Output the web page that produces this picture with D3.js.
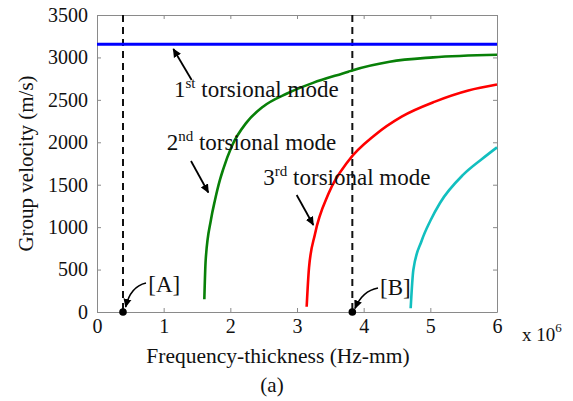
<!DOCTYPE html>
<html>
<head>
<meta charset="utf-8">
<script src="https://cdn.jsdelivr.net/npm/d3@7"></script>
<style>
  body { margin: 0; background: #fff; }
  svg text { font-family: "Liberation Serif", "Times New Roman", serif; fill: #111; }
  .axis path, .axis line { stroke: #8a8a8a; }
</style>
</head>
<body>
<div id="chart"></div>
<script>
// group velocity dispersion curves (frequency-thickness in MHz-mm, velocity m/s)
const t1f = [0, 6];
const t1v = [3155, 3155];
const t2f = [1.61, 1.63, 1.71, 1.77, 1.845, 1.89, 2.02, 2.245, 2.49, 2.85, 3.24, 3.77, 3.84, 4.39, 5.04, 6];
const t2v = [150, 610, 1090, 1320, 1560, 1675, 1950, 2235, 2420, 2575, 2700, 2832, 2850, 2950, 3001, 3032];
const t3f = [3.145, 3.18, 3.27, 3.47, 3.77, 4.17, 4.57, 5.07, 5.57, 6];
const t3v = [62, 520, 920, 1390, 1780, 2086, 2302, 2479, 2610, 2680];
const t4f = [4.705, 4.745, 4.87, 5.0, 5.145, 5.49, 5.77, 6];
const t4v = [44, 495, 840, 1075, 1285, 1615, 1800, 1940];
const markF = [0.39, 3.83];
const markNames = ["[A]", "[B]"];
const xTicks = [0, 1, 2, 3, 4, 5, 6];
const yTicks = [0, 500, 1000, 1500, 2000, 2500, 3000, 3500];

const W = 573, H = 401;
const margin = {top: 15, left: 97, right: 76, bottom: 89};
const width = W - margin.left - margin.right,
    height = H - margin.top - margin.bottom;

const svg = d3.select("#chart").append("svg")
    .attr("width", W).attr("height", H)
    .attr("font-family", "Liberation Serif");

svg.append("defs").append("marker")
    .attr("id", "head")
    .attr("viewBox", "0 0 10 10")
    .attr("refX", 9).attr("refY", 5)
    .attr("markerWidth", 9).attr("markerHeight", 9)
    .attr("markerUnits", "userSpaceOnUse")
    .attr("orient", "auto")
  .append("path")
    .attr("d", "M0,0.5 L10,5 L0,9.5 Z")
    .attr("fill", "#000");

const x = d3.scaleLinear().domain([0, 6]).range([margin.left, margin.left + width]);
const y = d3.scaleLinear().domain([0, 3500]).range([margin.top + height, margin.top]);

// axes, inward ticks like matlab
svg.append("g").attr("class", "axis")
    .attr("transform", `translate(0,${y(0)})`)
    .call(d3.axisBottom(x).tickValues(xTicks).tickFormat(d3.format("d"))
        .tickSize(-4).tickSizeOuter(0).tickPadding(7));
svg.append("g").attr("class", "axis")
    .attr("transform", `translate(${x(0)},0)`)
    .call(d3.axisLeft(y).tickValues(yTicks).tickFormat(d3.format("d"))
        .tickSize(-4).tickSizeOuter(0).tickPadding(9));
svg.append("g").attr("class", "axis")
    .attr("transform", `translate(0,${y(3500)})`)
    .call(d3.axisTop(x).tickValues(xTicks).tickSize(-4).tickSizeOuter(0).tickFormat(""));
svg.append("g").attr("class", "axis")
    .attr("transform", `translate(${x(6)},0)`)
    .call(d3.axisRight(y).tickValues(yTicks).tickSize(-4).tickSizeOuter(0).tickFormat(""));
svg.selectAll(".axis").attr("font-family", null);
svg.selectAll(".axis text").attr("font-size", 20).attr("fill", "#111");

// dashed markers
svg.selectAll(".dash").data(markF).join("line")
    .attr("x1", d => x(d)).attr("x2", d => x(d))
    .attr("y1", y(3500)).attr("y2", y(0))
    .attr("stroke", "#111").attr("stroke-width", 2)
    .attr("stroke-dasharray", "7,5");

const line = d3.line()
    .x(d => x(d[0])).y(d => y(d[1]))
    .curve(d3.curveMonotoneX);

const series = [
  {f: t1f, v: t1v, color: "#0000ff", w: 3},
  {f: t2f, v: t2v, color: "#088008", w: 2.6},
  {f: t3f, v: t3v, color: "#ff0000", w: 2.6},
  {f: t4f, v: t4v, color: "#12bfbf", w: 2.6}
];
svg.selectAll(".mode").data(series).join("path")
    .attr("class", "mode")
    .attr("fill", "none")
    .attr("stroke", d => d.color)
    .attr("stroke-width", d => d.w)
    .attr("d", d => line(d.f.map((f, i) => [f, d.v[i]])));

// dots at the bottom
svg.selectAll(".dot").data(markF).join("circle")
    .attr("cx", d => x(d)).attr("cy", y(0)).attr("r", 3.8)
    .attr("fill", "#000");

// mode labels with superscripts
const labels = [
  {n: "1", sup: "st", f: 1.155, v: 2534, arrow: [[1.42, 2734], [1.145, 3100]]},
  {n: "2", sup: "nd", f: 1.045, v: 1909, arrow: [[1.41, 1780], [1.67, 1408]]},
  {n: "3", sup: "rd", f: 2.495, v: 1497, arrow: [[2.995, 1379], [3.245, 1025]]}
];
labels.forEach(l => {
  const t = svg.append("text")
      .attr("x", x(l.f)).attr("y", y(l.v))
      .attr("font-size", 23);
  t.append("tspan").text(l.n);
  t.append("tspan").text(l.sup).attr("font-size", 15).attr("dy", -9);
  t.append("tspan").text(" torsional mode").attr("dy", 9);
  svg.append("line")
      .attr("x1", x(l.arrow[0][0])).attr("y1", y(l.arrow[0][1]))
      .attr("x2", x(l.arrow[1][0])).attr("y2", y(l.arrow[1][1]))
      .attr("stroke", "#000").attr("stroke-width", 1.8)
      .attr("marker-end", "url(#head)");
});

// [A] and [B] callouts with curved arrows
const callouts = [
  {f: 0.77, v: 239, tail: [0.735, 342], ctrl: [0.5, 300], head: [0.43, 59]},
  {f: 4.245, v: 200, tail: [4.215, 283], ctrl: [3.98, 250], head: [3.87, 41]}
];
callouts.forEach((c, i) => {
  svg.append("text").attr("x", x(c.f)).attr("y", y(c.v))
      .attr("font-size", 23).text(markNames[i]);
  svg.append("path")
      .attr("d", `M${x(c.tail[0])},${y(c.tail[1])} Q${x(c.ctrl[0])},${y(c.ctrl[1])} ${x(c.head[0])},${y(c.head[1])}`)
      .attr("fill", "none").attr("stroke", "#000").attr("stroke-width", 1.6)
      .attr("marker-end", "url(#head)");
});

// axis titles
svg.append("text")
    .attr("x", 278).attr("y", 363)
    .attr("text-anchor", "middle").attr("font-size", 21.5)
    .text("Frequency-thickness (Hz-mm)");
svg.append("text")
    .attr("transform", `translate(33,${y(1750)}) rotate(-90)`)
    .attr("text-anchor", "middle").attr("font-size", 21)
    .text("Group velocity (m/s)");
const ex = svg.append("text").attr("x", 522).attr("y", 341).attr("font-size", 19);
ex.append("tspan").text("x 10");
ex.append("tspan").text("6").attr("font-size", 13).attr("dy", -9);
svg.append("text")
    .attr("x", 272).attr("y", 392)
    .attr("text-anchor", "middle").attr("font-size", 21)
    .text("(a)");
</script>
</body>
</html>
